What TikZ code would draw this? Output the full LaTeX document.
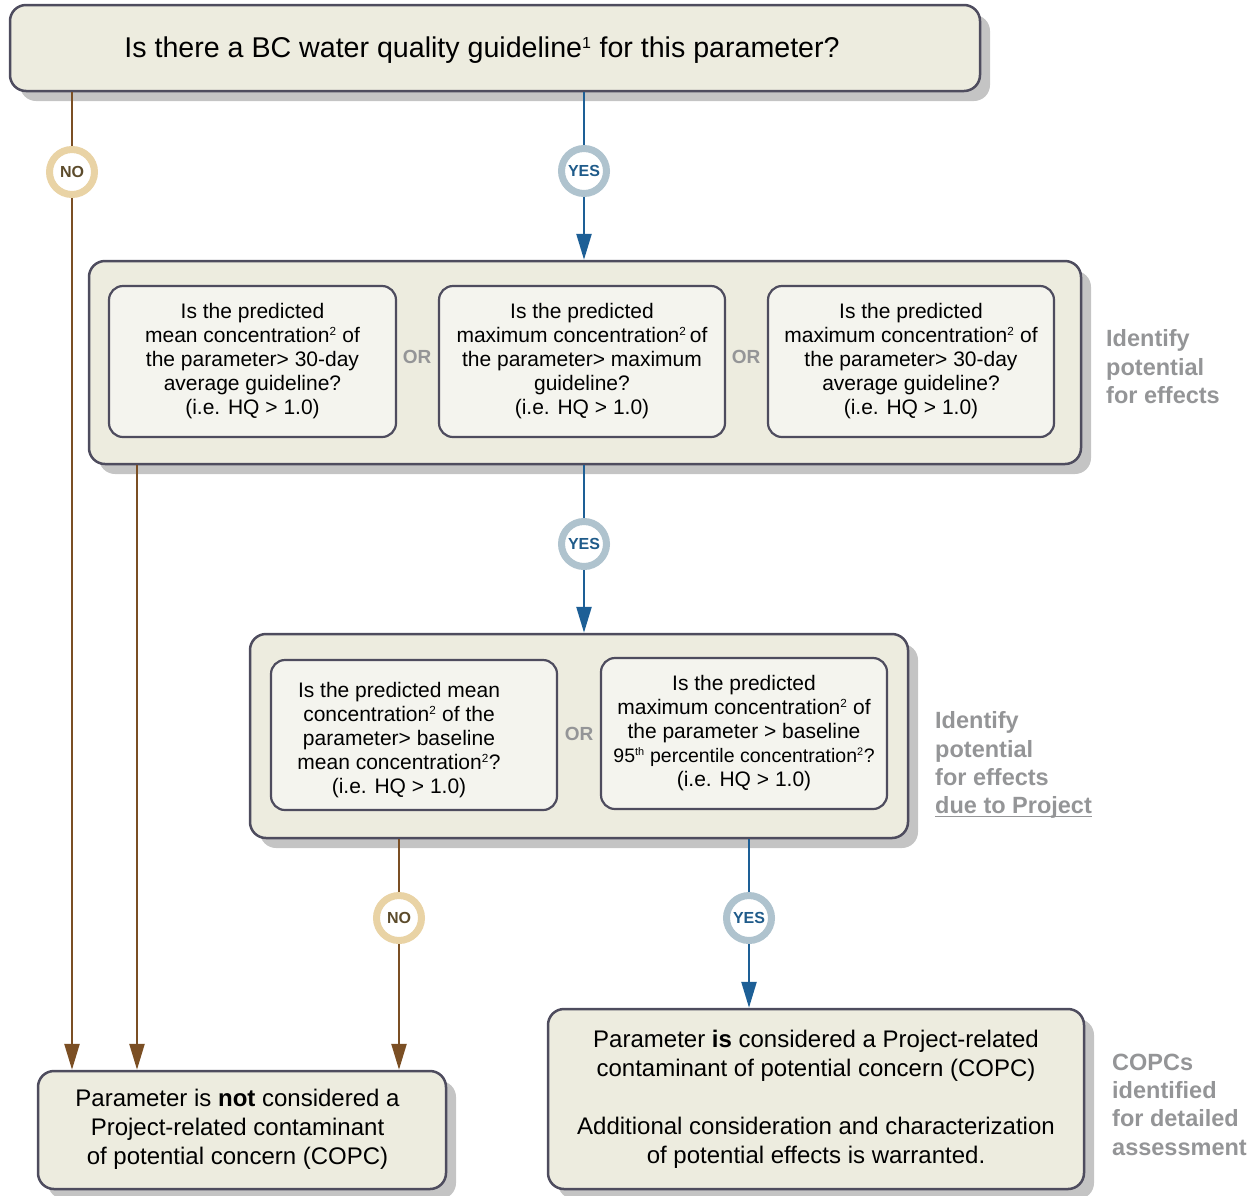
\documentclass[tikz,border=0pt]{standalone}
\usepackage{fontspec}
\setmainfont{Liberation Sans}
\usetikzlibrary{arrows.meta,shadows}
\definecolor{boxfill}{HTML}{EDECDF}
\definecolor{innerfill}{HTML}{F4F4EE}
\definecolor{boxline}{HTML}{4E4C5E}
\definecolor{shadowgray}{HTML}{C4C4C4}
\definecolor{brownline}{HTML}{7B4F24}
\definecolor{blueline}{HTML}{1D5F96}
\definecolor{noring}{HTML}{E9D3A5}
\definecolor{yesring}{HTML}{AFC3CE}
\definecolor{notext}{HTML}{5C4B2B}
\definecolor{yestext}{HTML}{1F5B8A}
\definecolor{labelgray}{HTML}{949597}
\newcommand{\mysup}[1]{\textsuperscript{\scalebox{0.8}{#1}}}
\newcommand{\grayuline}[1]{\leavevmode\rlap{\rule[-3.5pt]{\widthof{#1}}{1.6pt}}#1}
\usepackage{calc}
\tikzset{
  bigbox/.style={rectangle, rounded corners=16pt, draw=boxline, line width=2.5pt, fill=boxfill,
    drop shadow={shadow xshift=10pt, shadow yshift=-10pt, opacity=1, fill=shadowgray},
    inner sep=0pt, align=center},
  innerbox/.style={rectangle, rounded corners=14pt, draw=boxline, line width=2.2pt, fill=innerfill,
    inner sep=0pt, align=center, font=\fontsize{21}{24}\selectfont},
  endbox/.style={bigbox, font=\fontsize{24}{29}\selectfont},
  sidelabel/.style={anchor=north west, inner sep=0pt, align=left, text=labelgray,
    font=\fontsize{23.5}{28.3}\selectfont\bfseries},
  orlabel/.style={inner sep=0pt, text=labelgray, font=\fontsize{19}{22}\selectfont\bfseries},
  nocirc/.style={circle, draw=noring, line width=7pt, fill=white, minimum size=45pt, inner sep=0pt,
    text=notext, font=\fontsize{16}{18}\selectfont\bfseries},
  yescirc/.style={circle, draw=yesring, line width=7pt, fill=white, minimum size=45pt, inner sep=0pt,
    text=yestext, font=\fontsize{16}{18}\selectfont\bfseries},
  brownconn/.style={draw=brownline, line width=2.5pt},
  blueconn/.style={draw=blueline, line width=2.5pt},
  tipped/.style={-{Triangle[length=26pt,width=15pt]}}
}
\begin{document}
\begin{tikzpicture}[x=1pt,y=-1pt]
\useasboundingbox (0,0) rectangle (1260,1195);

% boxes
\node[bigbox, minimum width=970pt, minimum height=86pt, font=\fontsize{28.6}{33}\selectfont] (top) at (495,48)
  {\raisebox{0pt}[\dimexpr\height+4pt\relax][\depth]{Is there a BC water quality guideline\mysup{1} for this parameter?}\hspace{26pt}};

\node[bigbox, minimum width=992pt, minimum height=203pt] (mid) at (585,362.5) {};
\node[innerbox, minimum width=287pt, minimum height=151pt] (m1) at (252.5,361.5)
  {Is the predicted\\mean concentration\mysup{2} of\\the parameter> 30-day\\average guideline?\\(i.e. HQ > 1.0)};
\node[innerbox, minimum width=286pt, minimum height=151pt] (m2) at (582,361.5)
  {Is the predicted\\maximum concentration\mysup{2}\,of\\the parameter> maximum\\guideline?\\(i.e. HQ > 1.0)};
\node[innerbox, minimum width=286pt, minimum height=151pt] (m3) at (911,361.5)
  {Is the predicted\\maximum concentration\mysup{2} of\\the parameter> 30-day\\average guideline?\\(i.e. HQ > 1.0)};
\node[orlabel] (or1) at (417,357) {OR};
\node[orlabel] (or2) at (746,357) {OR};

\node[bigbox, minimum width=658pt, minimum height=204pt] (sec) at (579,736) {};
\node[innerbox, minimum width=286pt, minimum height=150pt] (s1) at (414,735)
  {\raisebox{0pt}[\dimexpr\height+12pt\relax][\depth]{\begin{tabular}{@{}c@{}}Is the predicted mean\\concentration\mysup{2} of the\\parameter> baseline\\mean concentration\mysup{2}?\\(i.e. HQ > 1.0)\end{tabular}}\hspace{30pt}};
\node[innerbox, minimum width=286pt, minimum height=151pt] (s2) at (744,733.5)
  {Is the predicted\\maximum concentration\mysup{2} of\\the parameter > baseline\\{\fontsize{19.5}{24}\selectfont 95\mysup{th} percentile concentration\mysup{2}?}\\(i.e. HQ > 1.0)};
\node[orlabel] (or3) at (579,734) {OR};

\node[endbox, minimum width=408pt, minimum height=118pt] (notc) at (242,1130)
  {\begin{tabular}{@{}c@{}}Parameter is \textbf{not} considered a\\Project-related contaminant\\of potential concern (COPC)\end{tabular}\hspace{9pt}};
\node[endbox, minimum width=536pt, minimum height=180pt] (isc) at (816,1099)
  {Parameter \textbf{is} considered a Project-related\\contaminant of potential concern (COPC)\\[29pt]Additional consideration and characterization\\of potential effects is warranted.};

% side labels
\node[sidelabel] (lab1) at (1106,329.5) {Identify\\potential\\for effects};
\node[sidelabel] (lab2) at (935,711.5) {Identify\\potential\\for effects\\\grayuline{due to Project}};
\node[sidelabel] (lab3) at (1112,1053.5) {COPCs\\identified\\for detailed\\assessment};

% circles
\node[nocirc] (n1) at (72,172) {NO};
\node[yescirc] (y1) at (584,171) {YES};
\node[yescirc] (y2) at (584,544) {YES};
\node[nocirc] (n2) at (399,918) {NO};
\node[yescirc] (y3) at (749,918) {YES};
\coordinate (l2) at (137,0);

% connectors
\draw[brownconn] (top.south -| n1) -- (n1);
\draw[brownconn, tipped] (n1) -- (notc.north -| n1);
\draw[brownconn, tipped] (mid.south -| l2) -- (notc.north -| l2);
\draw[blueconn] (top.south -| y1) -- (y1);
\draw[blueconn, tipped] (y1) -- (mid.north -| y1);
\draw[blueconn] (mid.south -| y2) -- (y2);
\draw[blueconn, tipped] (y2) -- (sec.north -| y2);
\draw[brownconn] (sec.south -| n2) -- (n2);
\draw[brownconn, tipped] (n2) -- (notc.north -| n2);
\draw[blueconn] (sec.south -| y3) -- (y3);
\draw[blueconn, tipped] (y3) -- (isc.north -| y3);
\end{tikzpicture}
\end{document}
